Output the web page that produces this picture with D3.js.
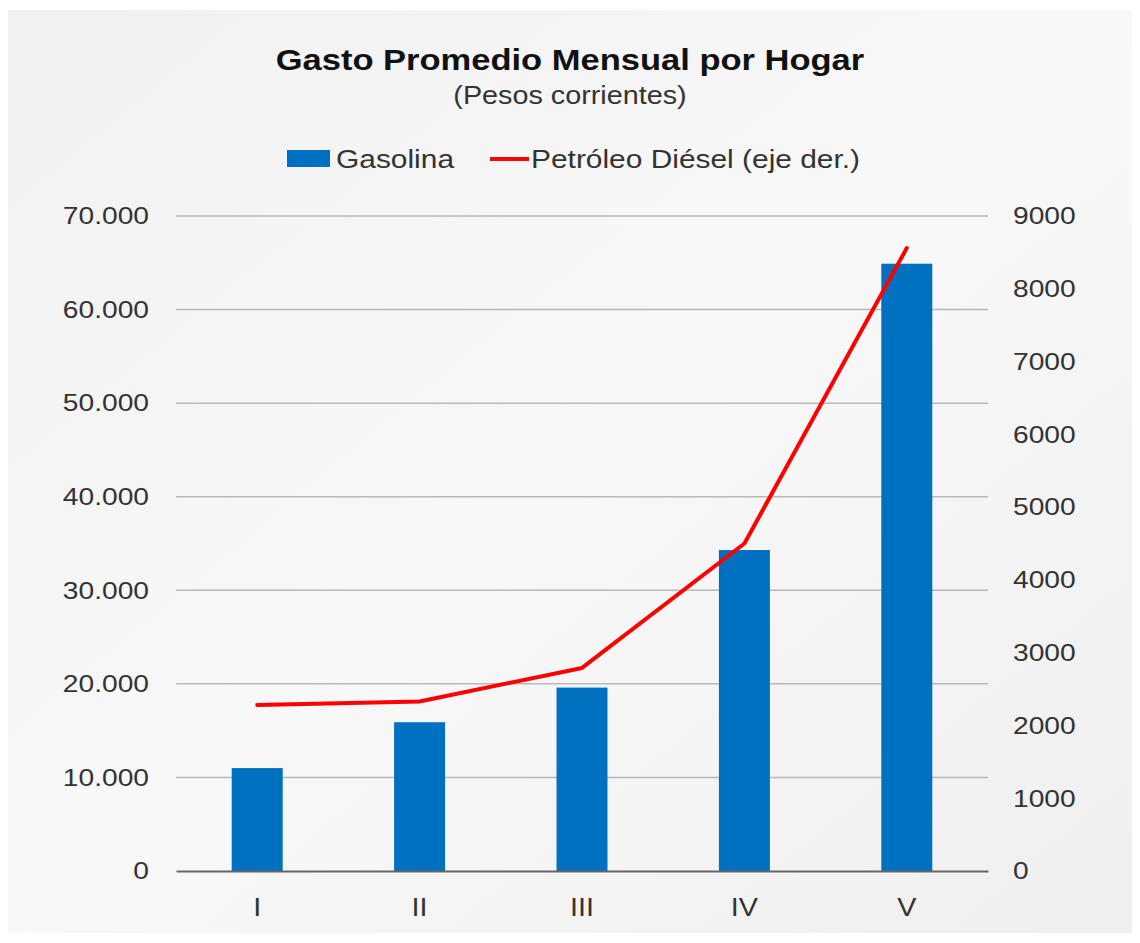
<!DOCTYPE html>
<html>
<head>
<meta charset="utf-8">
<script src="https://cdn.jsdelivr.net/npm/d3@7"></script>
<style>
  body { margin: 0; background: #fff; }
  text { font-family: "Liberation Sans", Arial, Helvetica, sans-serif; }
</style>
</head>
<body>
<div id="chart"></div>
<script>
// quintiles and values
const quintiles = ["I", "II", "III", "IV", "V"];
const gasolina = [11000, 15900, 19600, 34300, 64900];
const diesel = [2280, 2330, 2790, 4500, 8560];
const leftTicks = [0, 10000, 20000, 30000, 40000, 50000, 60000, 70000];
const rightTicks = [0, 1000, 2000, 3000, 4000, 5000, 6000, 7000, 8000, 9000];

const width = 1140, height = 943;
const margin = {top: 216, right: 152, bottom: 72, left: 176};
const stretch = 1.15; // the source text is a bit wider than plain Arial

const svg = d3.select("#chart")
  .append("svg")
  .attr("width", width)
  .attr("height", height);

// background panel
const defs = svg.append("defs");
const grad = defs.append("linearGradient")
  .attr("id", "bg")
  .attr("x1", "0").attr("y1", "0").attr("x2", "1").attr("y2", "1");
grad.append("stop").attr("offset", "0").attr("stop-color", "#f1f1f1");
grad.append("stop").attr("offset", "0.5").attr("stop-color", "#f8f8f8");
grad.append("stop").attr("offset", "1").attr("stop-color", "#efefef");

svg.append("rect")
  .attr("x", 8).attr("y", 10)
  .attr("width", width - 16).attr("height", height - 20)
  .attr("fill", "url(#bg)");

const x = d3.scaleBand()
  .domain(quintiles)
  .range([margin.left, width - margin.right])
  .paddingInner(0.686)
  .paddingOuter(0.343);

const y = d3.scaleLinear()
  .domain([0, 70000])
  .range([height - margin.bottom, margin.top]);

const y2 = d3.scaleLinear()
  .domain([0, 9000])
  .range([height - margin.bottom, margin.top]);

const fmt = d => d3.format(",")(d).replace(/,/g, ".");

// gridlines
svg.append("g")
  .selectAll("line")
  .data(leftTicks.filter(d => d > 0))
  .join("line")
  .attr("x1", margin.left)
  .attr("x2", width - margin.right)
  .attr("y1", d => y(d))
  .attr("y2", d => y(d))
  .attr("stroke", "#b9b9b9")
  .attr("stroke-width", 1.5);

// left axis
const leftAxis = svg.append("g")
  .attr("transform", `translate(${margin.left},0)`)
  .call(d3.axisLeft(y).tickValues(leftTicks).tickFormat(fmt).tickSize(0).tickPadding(27));
leftAxis.select(".domain").remove();
leftAxis.selectAll("text")
  .attr("font-size", 24.5)
  .attr("fill", "#333");

// right axis
const rightAxis = svg.append("g")
  .attr("transform", `translate(${width - margin.right},0)`)
  .call(d3.axisRight(y2).tickValues(rightTicks).tickFormat(d3.format("d")).tickSize(0).tickPadding(25));
rightAxis.select(".domain").remove();
rightAxis.selectAll("text")
  .attr("font-size", 24.5)
  .attr("fill", "#333");

// bars
svg.append("g")
  .selectAll("rect")
  .data(gasolina)
  .join("rect")
  .attr("x", (d, i) => x(quintiles[i]))
  .attr("y", d => y(d))
  .attr("width", x.bandwidth())
  .attr("height", d => y(0) - y(d))
  .attr("fill", "#0070c0");

// bottom axis
const bottomAxis = svg.append("g")
  .attr("transform", `translate(0,${y(0)})`)
  .call(d3.axisBottom(x).tickSize(0).tickPadding(27));
bottomAxis.select(".domain")
  .attr("stroke", "#666")
  .attr("stroke-width", 2);
bottomAxis.selectAll("text")
  .attr("font-size", 25)
  .attr("fill", "#333");

// diesel line
const line = d3.line()
  .x((d, i) => x(quintiles[i]) + x.bandwidth() / 2)
  .y(d => y2(d));

svg.append("path")
  .datum(diesel)
  .attr("d", line)
  .attr("fill", "none")
  .attr("stroke", "#ff0000")
  .attr("stroke-width", 4)
  .attr("stroke-linejoin", "round")
  .attr("stroke-linecap", "round");

// title
svg.append("text")
  .attr("x", 570).attr("y", 70)
  .attr("text-anchor", "middle")
  .attr("font-size", 30)
  .attr("font-weight", "bold")
  .attr("fill", "#111")
  .text("Gasto Promedio Mensual por Hogar");

svg.append("text")
  .attr("x", 570).attr("y", 104)
  .attr("text-anchor", "middle")
  .attr("font-size", 25)
  .attr("fill", "#333")
  .text("(Pesos corrientes)");

// legend
const legend = svg.append("g");
legend.append("rect")
  .attr("x", 287).attr("y", 150)
  .attr("width", 43).attr("height", 17)
  .attr("fill", "#0070c0");
legend.append("text")
  .attr("x", 336).attr("y", 168)
  .attr("font-size", 26)
  .attr("fill", "#333")
  .text("Gasolina");
legend.append("line")
  .attr("x1", 490).attr("x2", 529)
  .attr("y1", 159).attr("y2", 159)
  .attr("stroke", "#ff0000")
  .attr("stroke-width", 4);
legend.append("text")
  .attr("x", 531).attr("y", 168)
  .attr("font-size", 26)
  .attr("fill", "#333")
  .text("Petróleo Diésel (eje der.)");

// widen every label a little to match the source lettering
svg.selectAll("text").each(function() {
  const w = this.getComputedTextLength();
  d3.select(this)
    .attr("textLength", w * stretch)
    .attr("lengthAdjust", "spacingAndGlyphs");
});
</script>
</body>
</html>
